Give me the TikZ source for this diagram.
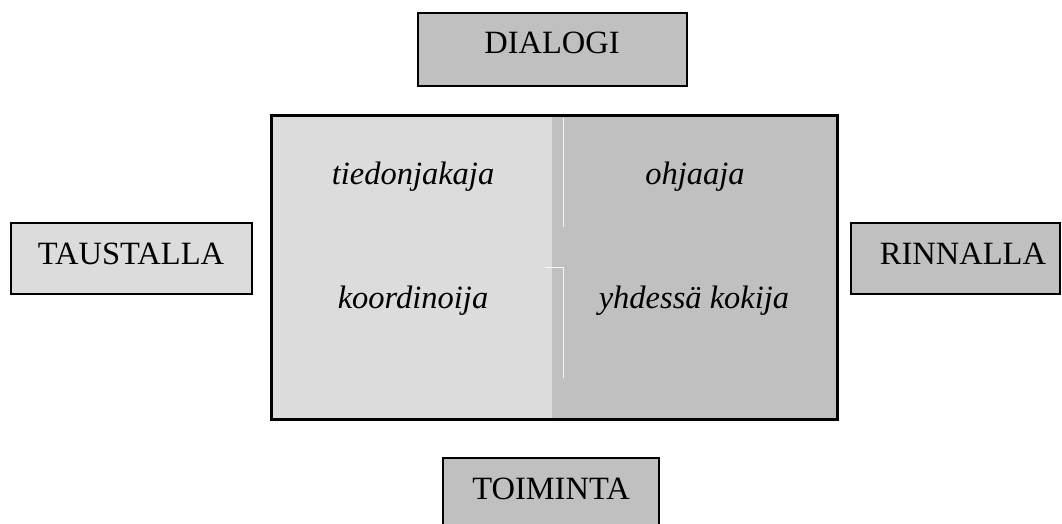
\documentclass[tikz,border=0pt]{standalone}
\usepackage{fontspec}
\setmainfont{Liberation Serif}
\definecolor{lightfill}{HTML}{DCDCDC}
\definecolor{darkfill}{HTML}{C0C0C0}
\begin{document}
\begin{tikzpicture}[x=1pt,y=-1pt,
  label box/.style={draw=black, line width=2pt},
  word/.style={font=\fontsize{32.5}{37}\selectfont, anchor=base, inner sep=0pt},
  role/.style={font=\fontsize{32.5}{37}\selectfont\itshape, anchor=base, inner sep=0pt},
  seam/.style={draw=white!85!darkfill, line width=1pt}]
\useasboundingbox (0,0) rectangle (1062,524);

% central square: two shaded halves inside a heavy frame
\fill[lightfill] (271,116) rectangle (552,419);
\fill[darkfill] (552,116) rectangle (837,419);
\coordinate (s1) at (563,118);
\coordinate (s2) at (563,227);
\coordinate (s3) at (545,267);
\coordinate (s4) at (563,267);
\coordinate (s5) at (563,378);
\draw[seam] (s1) -- (s2);
\draw[seam] (s3) -- (s4) -- (s5);
\draw[line width=3pt] (271,116) rectangle (837,419);

\node[role] (tiedon) at (413,184) {tiedonjakaja};
\node[role] (ohjaaja) at (695,184) {ohjaaja};
\node[role] (koord) at (413,308) {koordinoija};
\node[role] (kokija) at (694,308) {yhdessä kokija};

% outer labels
\filldraw[label box, fill=darkfill] (418,13) rectangle (687,86);
\node[word] (dialogi) at (552,54) {DIALOGI};

\filldraw[label box, fill=lightfill] (11,223) rectangle (252,294);
\node[word] (taustalla) at (131,264) {TAUSTALLA};

\filldraw[label box, fill=darkfill] (851,223) rectangle (1060,294);
\node[word] (rinnalla) at (963,264) {RINNALLA};

\filldraw[label box, fill=darkfill] (443,458) rectangle (659,530);
\node[word] (toiminta) at (551,499) {TOIMINTA};
\end{tikzpicture}
\end{document}
